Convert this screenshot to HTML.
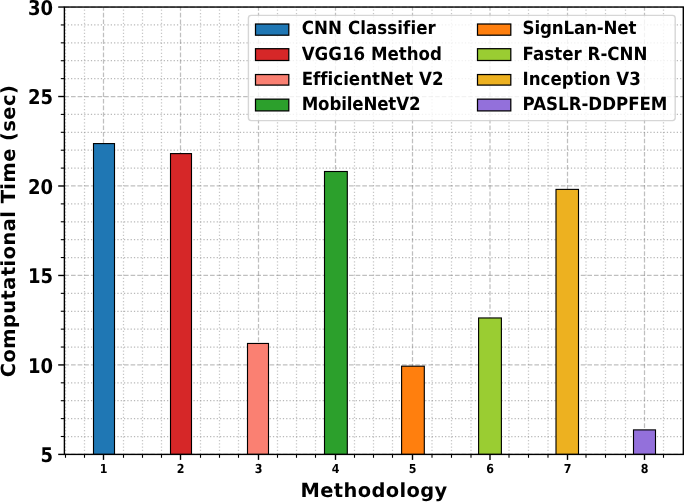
<!DOCTYPE html>
<html lang="en"><head><meta charset="utf-8"><title>Computational Time by Methodology</title>
<style>html,body{margin:0;padding:0;background:#fff;overflow:hidden}svg{display:block}text{font-family:"DejaVu Sans","Liberation Sans",sans-serif;font-weight:bold;fill:#000;text-rendering:geometricPrecision;font-variant-ligatures:none;font-feature-settings:"liga" 0,"clig" 0}</style></head><body>
<svg width="685" height="502" viewBox="0 0 685 502">
<rect width="685" height="502" fill="#fff"/>
<g fill="none" stroke="#808080" stroke-opacity="0.45" stroke-width="1.25" stroke-dasharray="1.25 2.06">
<path d="M65.50 454.40V7.05"/>
<path d="M84.50 454.40V7.05"/>
<path d="M123.50 454.40V7.05"/>
<path d="M142.50 454.40V7.05"/>
<path d="M161.50 454.40V7.05"/>
<path d="M200.50 454.40V7.05"/>
<path d="M219.50 454.40V7.05"/>
<path d="M238.50 454.40V7.05"/>
<path d="M277.50 454.40V7.05"/>
<path d="M296.50 454.40V7.05"/>
<path d="M315.50 454.40V7.05"/>
<path d="M354.50 454.40V7.05"/>
<path d="M373.50 454.40V7.05"/>
<path d="M392.50 454.40V7.05"/>
<path d="M432.00 454.40V7.05"/>
<path d="M451.50 454.40V7.05"/>
<path d="M471.00 454.40V7.05"/>
<path d="M509.00 454.40V7.05"/>
<path d="M528.50 454.40V7.05"/>
<path d="M548.00 454.40V7.05"/>
<path d="M586.00 454.40V7.05"/>
<path d="M605.50 454.40V7.05"/>
<path d="M625.50 454.40V7.05"/>
<path d="M663.50 454.40V7.05"/>
<path stroke-opacity="0.55" d="M64.40 436.51H683.30"/>
<path stroke-opacity="0.55" d="M64.40 418.61H683.30"/>
<path stroke-opacity="0.55" d="M64.40 400.72H683.30"/>
<path stroke-opacity="0.55" d="M64.40 382.82H683.30"/>
<path stroke-opacity="0.55" d="M64.40 347.04H683.30"/>
<path stroke-opacity="0.55" d="M64.40 329.14H683.30"/>
<path stroke-opacity="0.55" d="M64.40 311.25H683.30"/>
<path stroke-opacity="0.55" d="M64.40 293.35H683.30"/>
<path stroke-opacity="0.55" d="M64.40 257.57H683.30"/>
<path stroke-opacity="0.55" d="M64.40 239.67H683.30"/>
<path stroke-opacity="0.55" d="M64.40 221.78H683.30"/>
<path stroke-opacity="0.55" d="M64.40 203.88H683.30"/>
<path stroke-opacity="0.55" d="M64.40 168.10H683.30"/>
<path stroke-opacity="0.55" d="M64.40 150.20H683.30"/>
<path stroke-opacity="0.55" d="M64.40 132.31H683.30"/>
<path stroke-opacity="0.55" d="M64.40 114.41H683.30"/>
<path stroke-opacity="0.55" d="M64.40 78.63H683.30"/>
<path stroke-opacity="0.55" d="M64.40 60.73H683.30"/>
<path stroke-opacity="0.55" d="M64.40 42.84H683.30"/>
<path stroke-opacity="0.55" d="M64.40 24.94H683.30"/>
</g>
<g fill="none" stroke="#808080" stroke-opacity="0.5" stroke-width="1.25" stroke-dasharray="4.62 2">
<path d="M103.50 454.40V7.05"/>
<path d="M180.50 454.40V7.05"/>
<path d="M258.50 454.40V7.05"/>
<path d="M335.50 454.40V7.05"/>
<path d="M412.50 454.40V7.05"/>
<path d="M490.00 454.40V7.05"/>
<path d="M567.50 454.40V7.05"/>
<path d="M644.50 454.40V7.05"/>
<path d="M64.40 454.40H683.30"/>
<path d="M64.40 364.93H683.30"/>
<path d="M64.40 275.46H683.30"/>
<path d="M64.40 185.99H683.30"/>
<path d="M64.40 96.52H683.30"/>
<path d="M64.40 7.05H683.30"/>
</g>
<g stroke="#000" stroke-width="1.12" stroke-linejoin="miter">
<rect x="93.50" y="143.58" width="21.00" height="310.82" fill="#1f77b4"/>
<rect x="170.50" y="153.60" width="21.00" height="300.80" fill="#d62728"/>
<rect x="247.50" y="343.46" width="21.00" height="110.94" fill="#fa8072"/>
<rect x="324.50" y="171.50" width="22.80" height="282.90" fill="#2ca02c"/>
<rect x="401.60" y="366.18" width="22.70" height="88.22" fill="#ff7f0e"/>
<rect x="478.60" y="317.96" width="22.80" height="136.44" fill="#9acd32"/>
<rect x="556.00" y="189.39" width="22.50" height="265.01" fill="#edb120"/>
<rect x="633.50" y="429.89" width="22.00" height="24.51" fill="#9370db"/>
</g>
<g stroke="#000" stroke-width="1.39" fill="none">
<path d="M103.50 454.40v5.5"/>
<path d="M180.50 454.40v5.5"/>
<path d="M258.50 454.40v5.5"/>
<path d="M335.50 454.40v5.5"/>
<path d="M412.50 454.40v5.5"/>
<path d="M490.00 454.40v5.5"/>
<path d="M567.50 454.40v5.5"/>
<path d="M644.50 454.40v5.5"/>
<path d="M64.40 454.40h-6.2"/>
<path d="M64.40 364.93h-6.2"/>
<path d="M64.40 275.46h-6.2"/>
<path d="M64.40 185.99h-6.2"/>
<path d="M64.40 96.52h-6.2"/>
<path d="M64.40 7.05h-6.2"/>
</g>
<g stroke="#000" stroke-width="1.1" fill="none">
<path d="M65.50 454.40v3.4"/>
<path d="M84.50 454.40v3.4"/>
<path d="M123.50 454.40v3.4"/>
<path d="M142.50 454.40v3.4"/>
<path d="M161.50 454.40v3.4"/>
<path d="M200.50 454.40v3.4"/>
<path d="M219.50 454.40v3.4"/>
<path d="M238.50 454.40v3.4"/>
<path d="M277.50 454.40v3.4"/>
<path d="M296.50 454.40v3.4"/>
<path d="M315.50 454.40v3.4"/>
<path d="M354.50 454.40v3.4"/>
<path d="M373.50 454.40v3.4"/>
<path d="M392.50 454.40v3.4"/>
<path d="M432.00 454.40v3.4"/>
<path d="M451.50 454.40v3.4"/>
<path d="M471.00 454.40v3.4"/>
<path d="M509.00 454.40v3.4"/>
<path d="M528.50 454.40v3.4"/>
<path d="M548.00 454.40v3.4"/>
<path d="M586.00 454.40v3.4"/>
<path d="M605.50 454.40v3.4"/>
<path d="M625.50 454.40v3.4"/>
<path d="M663.50 454.40v3.4"/>
<path d="M64.40 436.51h-3.6"/>
<path d="M64.40 418.61h-3.6"/>
<path d="M64.40 400.72h-3.6"/>
<path d="M64.40 382.82h-3.6"/>
<path d="M64.40 347.04h-3.6"/>
<path d="M64.40 329.14h-3.6"/>
<path d="M64.40 311.25h-3.6"/>
<path d="M64.40 293.35h-3.6"/>
<path d="M64.40 257.57h-3.6"/>
<path d="M64.40 239.67h-3.6"/>
<path d="M64.40 221.78h-3.6"/>
<path d="M64.40 203.88h-3.6"/>
<path d="M64.40 168.10h-3.6"/>
<path d="M64.40 150.20h-3.6"/>
<path d="M64.40 132.31h-3.6"/>
<path d="M64.40 114.41h-3.6"/>
<path d="M64.40 78.63h-3.6"/>
<path d="M64.40 60.73h-3.6"/>
<path d="M64.40 42.84h-3.6"/>
<path d="M64.40 24.94h-3.6"/>
</g>
<rect x="64.40" y="7.05" width="618.90" height="447.35" fill="none" stroke="#000" stroke-width="1.39" stroke-linejoin="miter"/>
<g font-size="11.11px" text-anchor="middle">
<text transform="translate(103.50 472.6) scale(1 1.12)">1</text>
<text transform="translate(180.50 472.6) scale(1 1.12)">2</text>
<text transform="translate(258.50 472.6) scale(1 1.12)">3</text>
<text transform="translate(335.50 472.6) scale(1 1.12)">4</text>
<text transform="translate(412.50 472.6) scale(1 1.12)">5</text>
<text transform="translate(490.00 472.6) scale(1 1.12)">6</text>
<text transform="translate(567.50 472.6) scale(1 1.12)">7</text>
<text transform="translate(644.50 472.6) scale(1 1.12)">8</text>
</g>
<g font-size="18.05px" text-anchor="end">
<text transform="translate(53.0 462.00) scale(1 1.13)">5</text>
<text transform="translate(53.0 372.53) scale(1 1.13)">10</text>
<text transform="translate(53.0 283.06) scale(1 1.13)">15</text>
<text transform="translate(53.0 193.59) scale(1 1.13)">20</text>
<text transform="translate(53.0 104.12) scale(1 1.13)">25</text>
<text transform="translate(53.0 14.65) scale(1 1.13)">30</text>
</g>
<text x="373.85" y="496.7" font-size="19.44px" text-anchor="middle" textLength="146.6" lengthAdjust="spacing">Methodology</text>
<text transform="translate(15.2 231.22) rotate(-90)" font-size="19.44px" text-anchor="middle" textLength="292" lengthAdjust="spacing">Computational Time (sec)</text>
<rect x="248.4" y="15.4" width="426.8" height="105.2" rx="2.8" ry="2.8" fill="#fff" fill-opacity="0.8" stroke="#ccc" stroke-opacity="0.8" stroke-width="1.39"/>
<g font-size="16.67px">
<rect x="255.5" y="24.00" width="33.3" height="11.20" fill="#1f77b4" stroke="#000" stroke-width="1.25"/>
<text transform="translate(301.7 34.05) scale(1 1.09)" textLength="134.1" lengthAdjust="spacing">CNN Classifier</text>
<rect x="255.5" y="48.70" width="33.3" height="11.80" fill="#d62728" stroke="#000" stroke-width="1.25"/>
<text transform="translate(301.7 59.60) scale(1 1.09)" textLength="140.3" lengthAdjust="spacing">VGG16 Method</text>
<rect x="255.5" y="74.55" width="33.3" height="10.55" fill="#fa8072" stroke="#000" stroke-width="1.25"/>
<text transform="translate(301.7 84.60) scale(1 1.09)" textLength="141.8" lengthAdjust="spacing">EfficientNet V2</text>
<rect x="255.5" y="99.15" width="33.3" height="11.75" fill="#2ca02c" stroke="#000" stroke-width="1.25"/>
<text transform="translate(301.7 109.70) scale(1 1.09)" textLength="118.8" lengthAdjust="spacing">MobileNetV2</text>
<rect x="477.5" y="24.00" width="33.3" height="11.20" fill="#ff7f0e" stroke="#000" stroke-width="1.25"/>
<text transform="translate(522.6 34.05) scale(1 1.09)" textLength="113.85" lengthAdjust="spacing">SignLan-Net</text>
<rect x="477.5" y="48.70" width="33.3" height="11.80" fill="#9acd32" stroke="#000" stroke-width="1.25"/>
<text transform="translate(522.6 59.60) scale(1 1.09)" textLength="124.95" lengthAdjust="spacing">Faster R-CNN</text>
<rect x="477.5" y="74.55" width="33.3" height="10.55" fill="#edb120" stroke="#000" stroke-width="1.25"/>
<text transform="translate(522.6 84.60) scale(1 1.09)" textLength="118.25" lengthAdjust="spacing">Inception V3</text>
<rect x="477.5" y="99.15" width="33.3" height="11.75" fill="#9370db" stroke="#000" stroke-width="1.25"/>
<text transform="translate(522.6 109.70) scale(1 1.09)" textLength="144.85" lengthAdjust="spacing">PASLR-DDPFEM</text>
</g>
</svg></body></html>
